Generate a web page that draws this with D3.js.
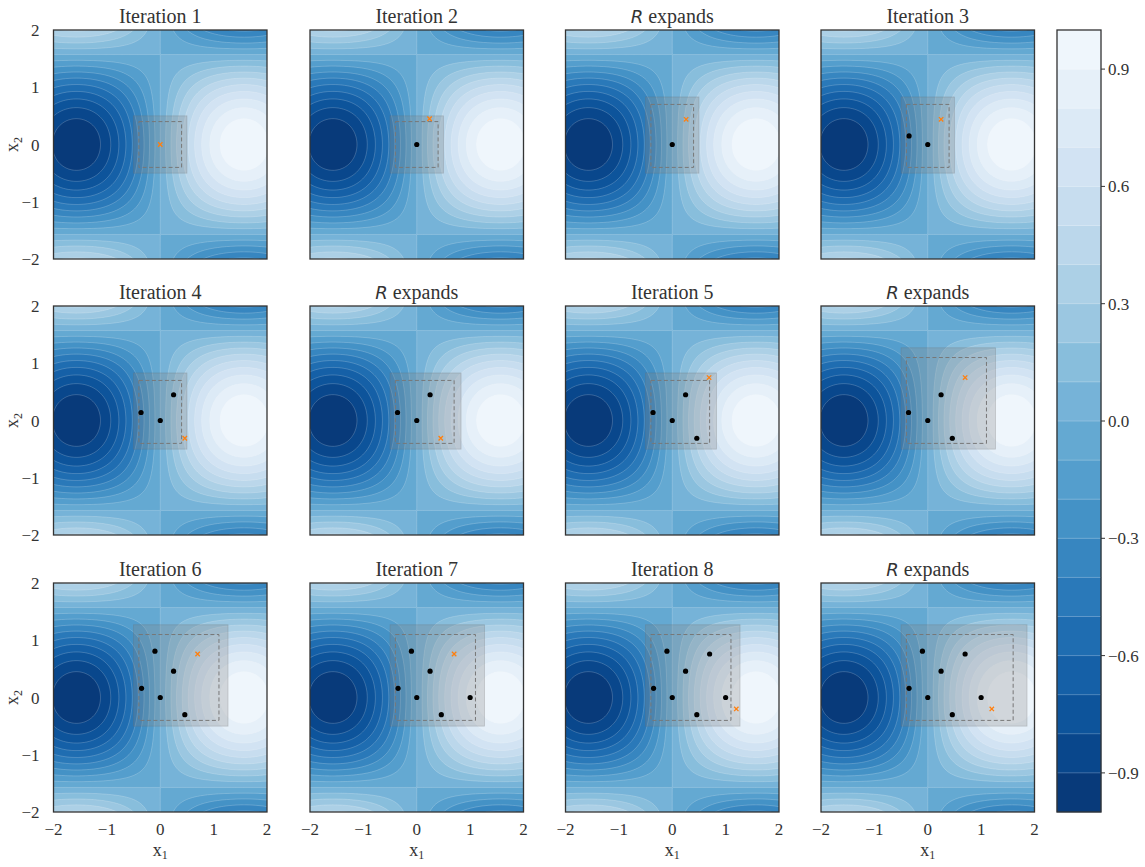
<!DOCTYPE html>
<html><head><meta charset="utf-8">
<script src="https://cdn.jsdelivr.net/npm/d3@7"></script>
<style>body{margin:0;background:#fff}text{font-family:"Liberation Serif","DejaVu Serif",serif;fill:#333}</style>
</head><body><svg id="c" width="1145" height="867"></svg>
<script>
const titles = ["Iteration 1","Iteration 2","R expands","Iteration 3","Iteration 4","R expands","Iteration 5","R expands","Iteration 6","Iteration 7","Iteration 8","R expands"];
const boxA = {inner:[-0.4,0.4,-0.4,0.4], outer:[-0.5,0.5,-0.5,0.5]};
const boxB = {inner:[-0.4,0.4,-0.4,0.7], outer:[-0.5,0.5,-0.5,0.83]};
const boxC = {inner:[-0.4,0.7,-0.4,0.7], outer:[-0.5,0.83,-0.5,0.83]};
const boxD = {inner:[-0.4,1.1,-0.4,1.1], outer:[-0.5,1.27,-0.5,1.27]};
const boxE = {inner:[-0.4,1.6,-0.4,1.1], outer:[-0.5,1.86,-0.5,1.27]};
const panelBoxes = [boxA,boxA,boxB,boxB,boxB,boxC,boxC,boxD,boxD,boxD,boxD,boxE];
const observed = [
  [],
  [[0,0]],
  [[0,0]],
  [[0,0],[-0.35,0.15]],
  [[0,0],[-0.36,0.14],[0.25,0.45]],
  [[0,0],[-0.36,0.14],[0.25,0.45]],
  [[0,0],[-0.36,0.14],[0.25,0.45],[0.46,-0.31]],
  [[0,0],[-0.36,0.14],[0.25,0.45],[0.46,-0.31]],
  [[0,0],[-0.35,0.16],[0.25,0.46],[0.46,-0.3],[-0.1,0.81]],
  [[0,0],[-0.35,0.16],[0.25,0.46],[0.46,-0.3],[-0.1,0.81],[1.0,0]],
  [[0,0],[-0.35,0.16],[0.25,0.46],[0.46,-0.3],[-0.1,0.81],[1.0,0],[0.7,0.76]],
  [[0,0],[-0.35,0.16],[0.25,0.46],[0.46,-0.3],[-0.1,0.81],[1.0,0],[0.7,0.76]]
];
const candidates = [[0,0],[0.24,0.45],[0.26,0.44],[0.25,0.44],[0.46,-0.31],[0.45,-0.31],[0.69,0.75],[0.7,0.75],[0.7,0.76],[0.7,0.76],[1.2,-0.2],[1.2,-0.2]];
const axisTicks = [-2,-1,0,1,2];
const levels = d3.range(21).map(i => +(-1 + i*0.1).toFixed(2));
const cbarTicks = [-0.9,-0.6,-0.3,0.0,0.3,0.6,0.9];

const svg = d3.select("#c");
const colX = [53.5,310,565.5,821], rowY = [30,306,583];
const PW = 213.5, PH = 229;
const fmt = v => (v<0?"\u2212":"") + Math.abs(v);
const colorOf = i => d3.interpolateBlues(1 - (i + 0.5)/20 * 0.97 - 0.015);

const n = 241;
const vals = new Array(n*n);
for (let j=0;j<n;j++) for (let i=0;i<n;i++){
  const x = -2 + 4*i/(n-1), y = -2 + 4*j/(n-1);
  vals[j*n+i] = Math.sin(x)*Math.cos(y);
}
const conts = d3.contours().size([n,n]).thresholds(levels.slice(0,20).map((v,i)=> i===0 ? -1.01 : v))(vals);

const defs = svg.append("defs");
defs.append("clipPath").attr("id","clip").append("rect").attr("width",PW).attr("height",PH);

titles.forEach((t,k)=>{
  const r = Math.floor(k/4), c = k%4;
  const g = svg.append("g").attr("transform",`translate(${colX[c]},${rowY[r]})`);
  const sx = d3.scaleLinear().domain([-2,2]).range([0,PW]);
  const sy = d3.scaleLinear().domain([-2,2]).range([PH,0]);
  const gx = v => sx(-2 + 4*(v-0.5)/(n-1)), gy = v => sy(-2 + 4*(v-0.5)/(n-1));
  const path = d3.geoPath(d3.geoTransform({point(x,y){this.stream.point(gx(x),gy(y));}}));
  const pg = g.append("g").attr("clip-path","url(#clip)");
  pg.append("rect").attr("width",PW).attr("height",PH).attr("fill",colorOf(0));
  conts.forEach((ct,i)=>{
    pg.append("path").attr("d",path(ct)).attr("fill",colorOf(i))
      .attr("stroke", i>0 ? "rgba(255,255,255,0.35)" : "none").attr("stroke-width",0.6);
  });
  const b = panelBoxes[k];
  const o = b.outer, inn = b.inner;
  pg.append("rect").attr("x",sx(o[0])).attr("y",sy(o[3])).attr("width",sx(o[1])-sx(o[0])).attr("height",sy(o[2])-sy(o[3]))
    .attr("fill","rgba(128,128,128,0.27)").attr("stroke","rgba(110,110,110,0.3)").attr("stroke-width",0.8);
  pg.append("rect").attr("x",sx(inn[0])).attr("y",sy(inn[3])).attr("width",sx(inn[1])-sx(inn[0])).attr("height",sy(inn[2])-sy(inn[3]))
    .attr("fill","none").attr("stroke","#777").attr("stroke-width",1).attr("stroke-dasharray","4,2.5");
  pg.selectAll("circle.o").data(observed[k]).join("circle").attr("cx",d=>sx(d[0])).attr("cy",d=>sy(d[1])).attr("r",2.6).attr("fill","#000");
  const cd = candidates[k], s = 2.2;
  pg.append("path").attr("d",`M${sx(cd[0])-s},${sy(cd[1])-s}L${sx(cd[0])+s},${sy(cd[1])+s}M${sx(cd[0])-s},${sy(cd[1])+s}L${sx(cd[0])+s},${sy(cd[1])-s}`)
    .attr("stroke","#ff7f0e").attr("stroke-width",1.3);
  g.append("rect").attr("width",PW).attr("height",PH).attr("fill","none").attr("stroke","#333").attr("stroke-width",1.3);
  const tt = g.append("text").attr("x",PW/2).attr("y",-7).attr("text-anchor","middle").attr("font-size",20);
  if (t.startsWith("R ")) {
    tt.append("tspan").attr("font-style","italic").attr("font-family","DejaVu Sans").attr("font-size",18).text("R");
    tt.append("tspan").text(" expands");
  } else tt.text(t);
  if (c===0){
    axisTicks.forEach(v=> g.append("text").attr("x",-14).attr("y",sy(v)+6).attr("text-anchor","end").attr("font-size",17).text(fmt(v)));
    const yl = g.append("text").attr("transform",`translate(-36,${PH/2}) rotate(-90)`).attr("text-anchor","middle").attr("font-size",18);
    yl.append("tspan").text("x"); yl.append("tspan").attr("font-size",12).attr("dy",4).text("2");
  }
  if (r===2){
    axisTicks.forEach(v=> g.append("text").attr("x",sx(v)).attr("y",PH+23).attr("text-anchor","middle").attr("font-size",17).text(fmt(v)));
    const xl = g.append("text").attr("x",PW/2).attr("y",PH+44).attr("text-anchor","middle").attr("font-size",18);
    xl.append("tspan").text("x"); xl.append("tspan").attr("font-size",12).attr("dy",3).text("1");
  }
});

const cb = svg.append("g").attr("transform","translate(1057,30)");
const CW = 44, CH = 782;
const cy = d3.scaleLinear().domain([-1,1]).range([CH,0]);
d3.range(20).forEach(i=>{
  cb.append("rect").attr("x",0).attr("y",cy(levels[i+1])).attr("width",CW).attr("height",cy(levels[i])-cy(levels[i+1]))
    .attr("fill",colorOf(i)).attr("stroke",colorOf(i)).attr("stroke-width",0.5);
});
d3.range(1,20).forEach(i=> cb.append("line").attr("x1",0).attr("x2",CW).attr("y1",cy(levels[i])).attr("y2",cy(levels[i])).attr("stroke","rgba(255,255,255,0.35)").attr("stroke-width",0.6));
cb.append("rect").attr("width",CW).attr("height",CH).attr("fill","none").attr("stroke","#333").attr("stroke-width",1.3);
cbarTicks.forEach(v=>{
  cb.append("line").attr("x1",CW).attr("x2",CW+4).attr("y1",cy(v)).attr("y2",cy(v)).attr("stroke","#333");
  cb.append("text").attr("x",CW+7).attr("y",cy(v)+6).attr("font-size",17).text(v<0?"\u2212"+Math.abs(v).toFixed(1):v.toFixed(1));
});
</script></body></html>
